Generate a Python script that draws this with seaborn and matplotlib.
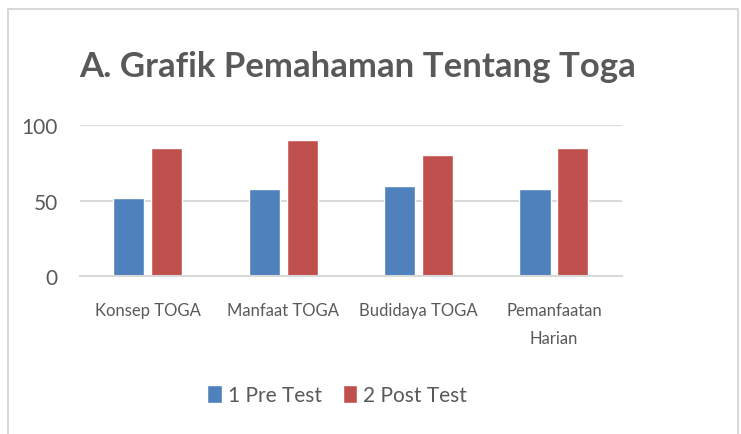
import seaborn as sns
import matplotlib.pyplot as plt
import pandas as pd
from matplotlib.patches import Rectangle

categories = ['Konsep TOGA', 'Manfaat TOGA', 'Budidaya TOGA', 'Pemanfaatan\nHarian']
pre_test = [52, 58, 60, 58]
post_test = [85, 90, 80, 85]
series = ['1 Pre Test', '2 Post Test']
yticks = [0, 50, 100]

df = pd.DataFrame({
    'kategori': categories * 2,
    'nilai': pre_test + post_test,
    'seri': [series[0]] * 4 + [series[1]] * 4,
})

sns.set_style('white')
plt.rcParams['font.family'] = ['Lato', 'DejaVu Sans']
grey = '#595959'

fig = plt.figure(figsize=(7.41, 4.35), dpi=100)
ax = fig.add_axes([0.108, 0.363, 0.731, 0.347])
sns.barplot(data=df, x='kategori', y='nilai', hue='seri', order=categories,
            palette=['#4F81BD', '#C0504D'], width=0.56, gap=0.18,
            saturation=1, ax=ax, legend=True)

ax.set_ylim(0, 100)
ax.set_xlim(-0.5, 3.5)
ax.set_yticks(yticks)
ax.yaxis.grid(True, color='#d9d9d9', linewidth=1.5)
ax.set_axisbelow(True)
for s in ['left', 'right', 'top']:
    ax.spines[s].set_visible(False)
ax.spines['bottom'].set_color('#d9d9d9')
ax.spines['bottom'].set_linewidth(1.5)
ax.tick_params(axis='both', length=0, colors=grey)
ax.tick_params(axis='y', labelsize=15, pad=16)
ax.tick_params(axis='x', labelsize=12, pad=19)
for t in ax.get_xticklabels():
    t.set_linespacing(1.9)
    t.set_verticalalignment('top')
ax.set_xlabel('')
ax.set_ylabel('')

fig.text(0.483, 0.845, 'A. Grafik Pemahaman Tentang Toga', ha='center', va='center',
         fontsize=25, fontweight='bold', color=grey)

handles, labels = ax.get_legend_handles_labels()
ax.legend(handles, labels, loc='center', bbox_to_anchor=(0.455, 0.09),
          bbox_transform=fig.transFigure, ncol=2, frameon=False,
          fontsize=15, labelcolor=grey, handlelength=0.7, handleheight=1.0,
          handletextpad=0.3, columnspacing=1.0)

fig.patches.append(Rectangle((0.011, -0.02), 0.985, 0.997, transform=fig.transFigure,
                             fill=False, edgecolor='#d9d9d9', linewidth=1.5))

fig.savefig('out.png', dpi=100)
